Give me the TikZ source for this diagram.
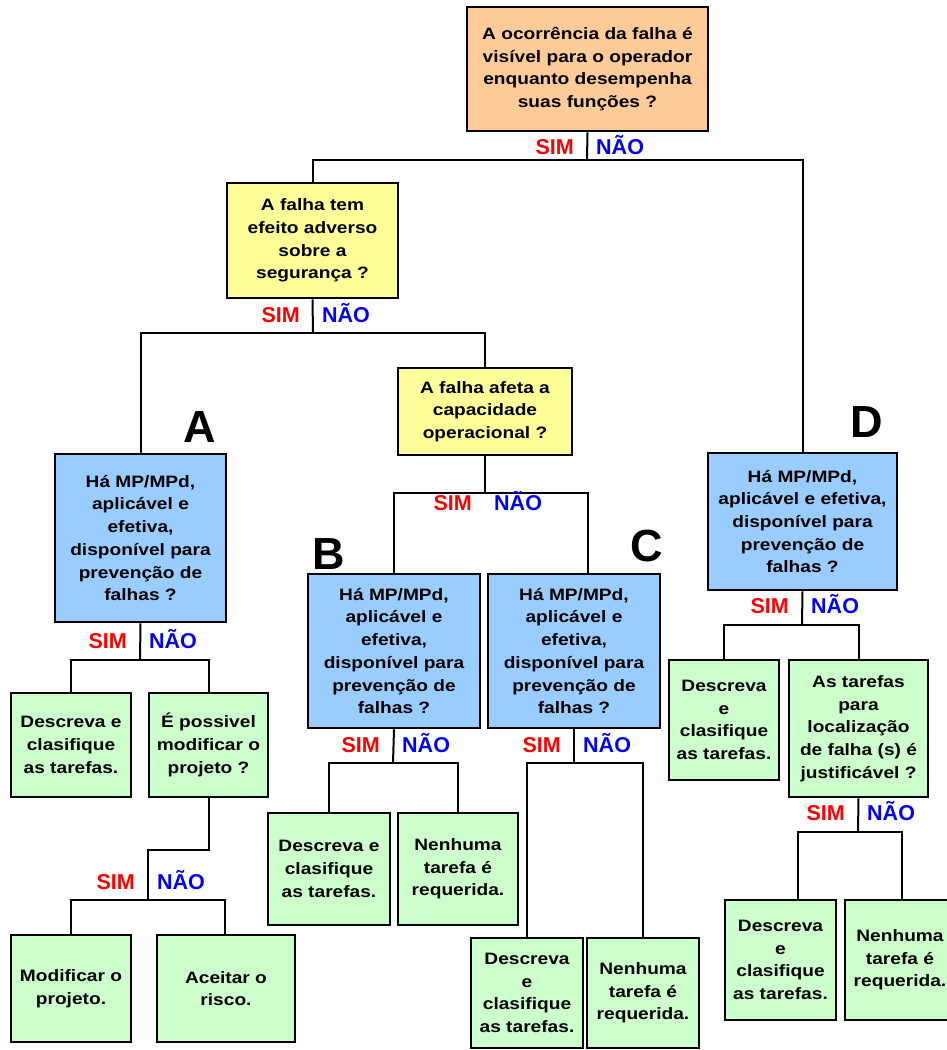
\documentclass[tikz,border=0pt]{standalone}
\usepackage{fontspec}
\setmainfont{Liberation Sans}[FakeStretch=1.16]
\newfontfamily\labfont{Liberation Sans}
\usepackage{xcolor}
\usepackage{tikz}
\usetikzlibrary{positioning}
\definecolor{topq}{RGB}{255,204,153}
\definecolor{question}{RGB}{255,255,153}
\definecolor{mpbox}{RGB}{153,204,255}
\definecolor{answer}{RGB}{204,255,204}

\begin{document}
\begin{tikzpicture}[x=1pt, y=-1pt,
    box/.style={draw, rectangle, line width=2.6pt, align=center, inner sep=2pt,
        font=\fontsize{16.5}{22.7}\selectfont\bfseries},
    link/.style={line width=2pt},
    sim/.style={anchor=base east, inner sep=0pt, text=red, font=\labfont\bfseries\fontsize{21.5}{21.5}\selectfont},
    nao/.style={anchor=base west, inner sep=0pt, text=blue, font=\labfont\bfseries\fontsize{21.5}{21.5}\selectfont},
    tag/.style={inner sep=0pt, font=\labfont\bfseries\fontsize{45}{45}\selectfont}]
    \useasboundingbox (0,0) rectangle (946,1050);

    % questions
    \node[box, fill=topq, minimum width=241, minimum height=124] (q1) at (587.5,69)
        {A ocorrência da falha é\\ visível para o operador\\ enquanto desempenha\\ suas funções ?};
    \node[box, fill=question, minimum width=171, minimum height=115] (q2) at (312.5,240.5)
        {A falha tem\\ efeito adverso\\ sobre a\\ segurança ?};
    \node[box, fill=question, minimum width=174, minimum height=87] (q3) at (485,411.5)
        {A falha afeta a\\ capacidade\\ operacional ?};

    % MP/MPd boxes
    \node[box, fill=mpbox, minimum width=171, minimum height=168] (qA) at (140.5,538)
        {Há MP/MPd,\\ aplicável e\\ efetiva,\\ disponível para\\ prevenção de\\ falhas ?};
    \node[box, fill=mpbox, minimum width=172, minimum height=154] (qB) at (394,651)
        {Há MP/MPd,\\ aplicável e\\ efetiva,\\ disponível para\\ prevenção de\\ falhas ?};
    \node[box, fill=mpbox, minimum width=172, minimum height=154] (qC) at (574,651)
        {Há MP/MPd,\\ aplicável e\\ efetiva,\\ disponível para\\ prevenção de\\ falhas ?};
    \node[box, fill=mpbox, minimum width=189, minimum height=137] (qD) at (802.5,521.5)
        {Há MP/MPd,\\ aplicável e efetiva,\\ disponível para\\ prevenção de\\ falhas ?};

    \node[tag] (tA) at (200,427) {A};
    \node[tag] (tB) at (329,554) {B};
    \node[tag] (tC) at (647,546) {C};
    \node[tag] (tD) at (867,422) {D};

    % branch A
    \node[box, fill=answer, minimum width=120, minimum height=104] (a1) at (71,745)
        {Descreva e\\ clasifique\\ as tarefas.};
    \node[box, fill=answer, minimum width=119, minimum height=104] (a2) at (208.5,745)
        {É possivel\\ modificar o\\ projeto ?};
    \node[box, fill=answer, minimum width=120, minimum height=107] (a21) at (71,988.5)
        {Modificar o\\ projeto.};
    \node[box, fill=answer, minimum width=138, minimum height=107] (a22) at (226,988.5)
        {Aceitar o\\ risco.};

    % branch B
    \node[box, fill=answer, minimum width=122, minimum height=112] (b1) at (329,869)
        {Descreva e\\ clasifique\\ as tarefas.};
    \node[box, fill=answer, minimum width=120, minimum height=112] (b2) at (458,869)
        {Nenhuma\\ tarefa é\\ requerida.};

    % branch C
    \node[box, fill=answer, minimum width=112, minimum height=110] (c1) at (527,993)
        {Descreva\\ e\\ clasifique\\ as tarefas.};
    \node[box, fill=answer, minimum width=112, minimum height=110] (c2) at (643,993)
        {Nenhuma\\ tarefa é\\ requerida.};

    % branch D
    \node[box, fill=answer, minimum width=110, minimum height=120] (d1) at (724,720)
        {Descreva\\ e\\ clasifique\\ as tarefas.};
    \node[box, fill=answer, minimum width=139, minimum height=137] (d2) at (858.5,728.5)
        {As tarefas\\ para\\ localização\\ de falha (s) é\\ justificável ?};
    \node[box, fill=answer, minimum width=111, minimum height=120] (d21) at (780.5,960)
        {Descreva\\ e\\ clasifique\\ as tarefas.};
    \node[box, fill=answer, minimum width=110, minimum height=120] (d22) at (900,960)
        {Nenhuma\\ tarefa é\\ requerida.};

    % junctions
    \coordinate (j1) at (587,160);
    \coordinate (j2) at (313,333);
    \coordinate (j3) at (485,493);
    \coordinate (j4) at (140,660);
    \coordinate (k5) at (148,850);
    \coordinate (j5) at (148,900);
    \coordinate (j6) at (393,763);
    \coordinate (j7) at (574,763);
    \coordinate (j8) at (802,625);
    \coordinate (j9) at (858,832);

    \draw[link] (q1.south) -- (j1);
    \draw[link] (q2.north) |- (j1) -| (qD.north);
    \draw[link] (q2.south) -- (j2);
    \draw[link] (qA.north) |- (j2) -| (q3.north);
    \draw[link] (q3.south) -- (j3);
    \draw[link] (qB.north) |- (j3) -| ([xshift=14pt]qC.north);
    \draw[link] (qA.south) -- (j4);
    \draw[link] (a1.north) |- (j4) -| (a2.north);
    \draw[link] (a2.south) |- (k5) -- (j5);
    \draw[link] (a21.north) |- (j5) -| ([xshift=-1pt]a22.north);
    \draw[link] (qB.south) -- (j6);
    \draw[link] (b1.north) |- (j6) -| (b2.north);
    \draw[link] (qC.south) -- (j7);
    \draw[link] (c1.north) |- (j7) -| (c2.north);
    \draw[link] (qD.south) -- (j8);
    \draw[link] (d1.north) |- (j8) -| (d2.north);
    \draw[link] (d2.south) -- (j9);
    \draw[link] ([xshift=17pt]d21.north) |- (j9) -| ([xshift=2pt]d22.north);

    % SIM / NAO labels
    \node[sim] (s1) at (574,154.5) {SIM};  \node[nao] (n1) at (596,154.5) {NÃO};
    \node[sim] (s2) at (300,322.5) {SIM};  \node[nao] (n2) at (322,322.5) {NÃO};
    \node[sim] (s3) at (472,510.5) {SIM};  \node[nao] (n3) at (494,510.5) {NÃO};
    \node[sim] (s4) at (127,648.5) {SIM};  \node[nao] (n4) at (149,648.5) {NÃO};
    \node[sim] (s5) at (135,889.5) {SIM};  \node[nao] (n5) at (157,889.5) {NÃO};
    \node[sim] (s6) at (380,752.5) {SIM};  \node[nao] (n6) at (402,752.5) {NÃO};
    \node[sim] (s7) at (561,752.5) {SIM};  \node[nao] (n7) at (583,752.5) {NÃO};
    \node[sim] (s8) at (789,613.5) {SIM};  \node[nao] (n8) at (811,613.5) {NÃO};
    \node[sim] (s9) at (845,820.5) {SIM};  \node[nao] (n9) at (867,820.5) {NÃO};
\end{tikzpicture}
\end{document}
